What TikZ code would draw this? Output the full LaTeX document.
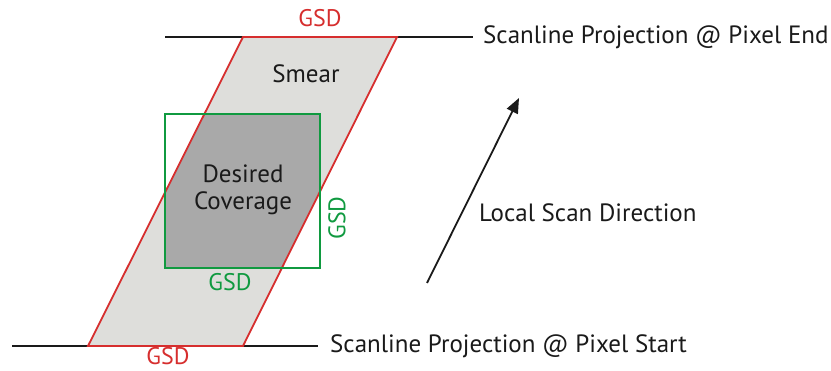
\documentclass[tikz,border=0pt]{standalone}
\usepackage{fontspec}
\setmainfont{PT Sans}
\usetikzlibrary{arrows.meta}
\definecolor{gsdred}{HTML}{D62E2E}
\definecolor{gsdgreen}{HTML}{109A40}
\definecolor{smeargray}{HTML}{DEDEDB}
\definecolor{covgray}{HTML}{A9A9A9}
\definecolor{txt}{HTML}{1A1A1A}
\begin{document}
\begin{tikzpicture}[x=1pt,y=-1pt,
  lbl/.style={font=\fontsize{25}{28}\selectfont, inner sep=0pt, text=txt},
  gsdlbl/.style={font=\fontsize{24}{27}\selectfont, inner sep=0pt},
  redlbl/.style={gsdlbl, text=gsdred},
  greenlbl/.style={gsdlbl, text=gsdgreen},
  scanline/.style={line width=1.8pt, txt},
  sq/.style={draw=gsdgreen, line width=1.8pt}]
\useasboundingbox (0,0) rectangle (831,371);
% scanlines
\coordinate (tl) at (165,37);
\coordinate (tr) at (473,37);
\coordinate (bl) at (12,346);
\coordinate (br) at (318,346);
\draw[scanline] (tl) -- (tr);
\draw[scanline] (bl) -- (br);
% parallelogram
\coordinate (p1) at (243,37);
\coordinate (p2) at (397,37);
\coordinate (p3) at (243,346);
\coordinate (p4) at (88,346);
\fill[smeargray] (p1) -- (p2) -- (p3) -- (p4) -- cycle;
% coverage
\coordinate (s1) at (165,114);
\coordinate (s2) at (320,268);
\begin{scope}
\clip (p1) -- (p2) -- (p3) -- (p4) -- cycle;
\fill[covgray] (s1) rectangle (s2);
\end{scope}
\draw[gsdred, line width=1.8pt, line join=miter] (p1) -- (p2) -- (p3) -- (p4) -- cycle;
\draw[sq] (s1) rectangle (s2);
% labels
\node[redlbl] (gsdtop) at (320,18) {GSD};
\node[redlbl] (gsdbot) at (168,356) {GSD};
\node[greenlbl] (gsdsq) at (230,282) {GSD};
\node[greenlbl, rotate=90] (gsdside) at (337,218) {GSD};
\node[lbl] (smear) at (306,74) {Smear};
\node[lbl, align=center, font=\fontsize{25}{27}\selectfont] (cov) at (243,190) {Desired\\Coverage};
\node[lbl, anchor=west] (endlbl) at (483,37) {Scanline Projection @ Pixel End};
\node[lbl, anchor=west] (startlbl) at (330,346) {Scanline Projection @ Pixel Start};
\node[lbl, anchor=west] (dirlbl) at (479,213) {Local Scan Direction};
% arrow
\coordinate (a0) at (427,283);
\coordinate (a1) at (519,98);
\draw[line width=1.8pt, txt, -{Triangle[length=15pt,width=12pt]}] (a0) -- (a1);
\end{tikzpicture}
\end{document}
